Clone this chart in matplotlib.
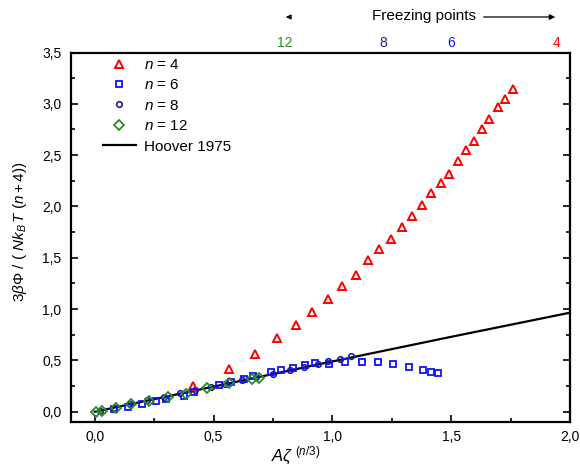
"""
Scaled excess free energy of soft-sphere fluids (n = 4, 6, 8, 12)
compared with Hoover 1975.
"""

import matplotlib
matplotlib.use("Agg")
import matplotlib.pyplot as plt
from matplotlib.ticker import MultipleLocator, FuncFormatter

plt.rcParams["font.family"] = ["Liberation Sans", "DejaVu Sans"]
plt.rcParams["mathtext.fontset"] = "custom"
plt.rcParams["mathtext.rm"] = "Liberation Sans"
plt.rcParams["mathtext.it"] = "Liberation Sans:italic"
plt.rcParams["mathtext.bf"] = "Liberation Sans:bold"

# n = 4 (red triangles)
x_n4 = [0.415, 0.564, 0.675, 0.766, 0.845, 0.916, 0.982, 1.041, 1.098, 1.151,
        1.195, 1.246, 1.291, 1.333, 1.376, 1.415, 1.456, 1.491, 1.527, 1.564,
        1.598, 1.630, 1.661, 1.695, 1.726, 1.758]
y_n4 = [0.253, 0.416, 0.562, 0.718, 0.843, 0.970, 1.101, 1.225, 1.332, 1.479,
        1.586, 1.686, 1.800, 1.904, 2.015, 2.133, 2.226, 2.320, 2.446, 2.551,
        2.634, 2.755, 2.849, 2.970, 3.048, 3.145]

# n = 6 (blue squares)
x_n6 = [0.080, 0.142, 0.198, 0.257, 0.300, 0.377, 0.419, 0.524, 0.574, 0.629,
        0.665, 0.743, 0.785, 0.834, 0.883, 0.925, 0.984, 1.052, 1.125, 1.193,
        1.256, 1.322, 1.383, 1.414, 1.443]
y_n6 = [0.022, 0.042, 0.075, 0.104, 0.124, 0.156, 0.190, 0.256, 0.286, 0.317,
        0.346, 0.383, 0.406, 0.424, 0.451, 0.473, 0.465, 0.480, 0.480, 0.480,
        0.468, 0.439, 0.406, 0.387, 0.375]

# n = 8 (navy circles)
x_n8 = [0.02, 0.08, 0.15, 0.22, 0.29, 0.36, 0.42, 0.49, 0.55, 0.62, 0.68,
        0.75, 0.82, 0.88, 0.94, 0.98, 1.03, 1.08]
y_n8 = [0.010, 0.040, 0.075, 0.110, 0.145, 0.180, 0.210, 0.245, 0.275, 0.310,
        0.340, 0.370, 0.405, 0.435, 0.465, 0.497, 0.514, 0.546]

# n = 12 (green diamonds)
x_n12 = [0.005, 0.032, 0.089, 0.152, 0.229, 0.307, 0.384, 0.473, 0.567, 0.661, 0.692]
y_n12 = [0.000, 0.010, 0.039, 0.078, 0.107, 0.146, 0.173, 0.229, 0.283, 0.322, 0.331]

# Hoover 1975
x_hoover = [0.0, 0.5, 1.0, 1.5, 2.0]
y_hoover = [0.0, 0.245, 0.490, 0.730, 0.965]

# freezing points on the top axis
freeze_x = [0.80, 1.215, 1.50, 1.945]
freeze_labels = ["12", "8", "6", "4"]

RED = "#ff0000"
BLUE = "#1010ff"
NAVY = "#20208a"
GREEN = "#2a8a2a"
freeze_colors = [GREEN, NAVY, BLUE, RED]

fig = plt.figure(figsize=(5.8, 4.68), dpi=100)
ax = fig.add_axes([0.1224, 0.0983, 0.8604, 0.7895])

ax.plot(x_hoover, y_hoover, color="black", lw=1.6, label="Hoover 1975", zorder=3)
ax.plot(x_n4, y_n4, ls="none", marker="^", ms=5.8, mfc="none", mec=RED, mew=1.4,
        label=r"$n$ = 4", zorder=4)
ax.plot(x_n6, y_n6, ls="none", marker="s", ms=4.5, mfc="none", mec=BLUE, mew=1.3,
        label=r"$n$ = 6", zorder=4)
ax.plot(x_n8, y_n8, ls="none", marker="o", ms=4, mfc="none", mec=NAVY, mew=1.2,
        label=r"$n$ = 8", zorder=3.5)
ax.plot(x_n12, y_n12, ls="none", marker="D", ms=4.8, mfc="none", mec=GREEN, mew=1.3,
        label=r"$n$ = 12", zorder=4)

ax.set_xlim(-0.1, 2.0)
ax.set_ylim(-0.1, 3.5)

comma = FuncFormatter(lambda v, p: f"{v:.1f}".replace(".", ","))
ax.xaxis.set_major_locator(MultipleLocator(0.5))
ax.xaxis.set_minor_locator(MultipleLocator(0.25))
ax.yaxis.set_major_locator(MultipleLocator(0.5))
ax.yaxis.set_minor_locator(MultipleLocator(0.25))
ax.xaxis.set_major_formatter(comma)
ax.yaxis.set_major_formatter(comma)

ax.tick_params(which="both", direction="in", top=True, right=True, width=1.2,
               labelsize=10)
ax.tick_params(which="major", length=5)
ax.tick_params(which="minor", length=3)
ax.tick_params(axis="x", pad=6)
ax.tick_params(axis="y", pad=7)
for sp in ax.spines.values():
    sp.set_linewidth(1.6)

ax.set_xlabel(r"$A\zeta^{\ (n/3)}$", fontsize=12)
ax.xaxis.set_label_coords(0.45, -0.063)
ax.set_ylabel(r"$3\beta\Phi\ /\ (\ Nk_B\,T\ (n+4))$", fontsize=11)
ax.yaxis.set_label_coords(-0.085, 0.514)

# top axis: freezing points
top = ax.twiny()
top.set_xlim(ax.get_xlim())
top.set_xticks(freeze_x)
top.set_xticklabels(freeze_labels)
top.tick_params(axis="x", length=0, pad=2.0, labelsize=10)
for lbl, c in zip(top.get_xticklabels(), freeze_colors):
    lbl.set_color(c)
for sp in top.spines.values():
    sp.set_visible(False)

fig.text(372 / 580, 1 - 16 / 468, "Freezing points", fontsize=11,
         ha="left", va="center")
fig.add_artist(matplotlib.patches.FancyArrowPatch(
    (481 / 580, 1 - 17 / 468), (558 / 580, 1 - 17 / 468),
    transform=fig.transFigure, arrowstyle="-|>", mutation_scale=8,
    color="black", lw=0.9))
fig.add_artist(matplotlib.patches.FancyArrowPatch(
    (292 / 580, 1 - 17 / 468), (283 / 580, 1 - 17 / 468),
    transform=fig.transFigure, arrowstyle="-|>", mutation_scale=7,
    color="black", lw=0.9))

handles, labels = ax.get_legend_handles_labels()
order = [1, 2, 3, 4, 0]
ax.legend([handles[i] for i in order], [labels[i] for i in order],
          loc="upper left", frameon=False, fontsize=11, handlelength=2.2,
          handletextpad=0.5, labelspacing=0.42, borderaxespad=0.2,
          bbox_to_anchor=(0.045, 1.01))

fig.savefig("out.png", dpi=100)
